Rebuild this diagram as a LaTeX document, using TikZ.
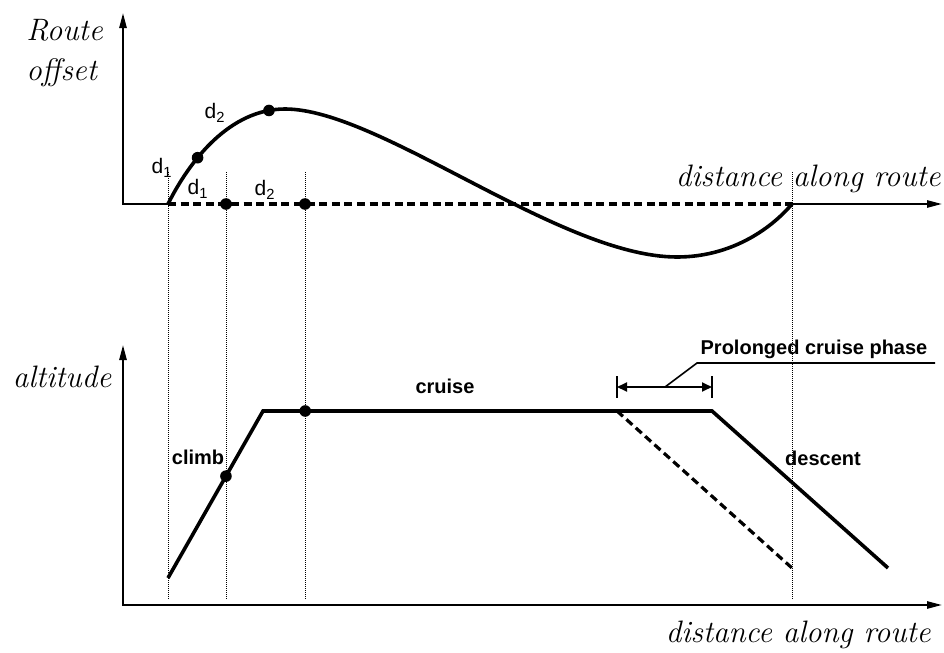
\documentclass[tikz,border=0pt]{standalone}
\usepackage{fontspec}
\newfontfamily\lblfont{Liberation Sans}
\usetikzlibrary{arrows.meta}

\begin{document}
\begin{tikzpicture}[
    x=0.5pt, y=-0.5pt,
    axis/.style={line width=1pt, line join=miter, -{Triangle[length=7.5pt, width=3.6pt]}},
    axes/.style={line width=1pt, line join=miter, {Triangle[length=7.5pt, width=3.6pt]}-{Triangle[length=7.5pt, width=3.6pt]}},
    route/.style={line width=1.8pt},
    plan/.style={line width=1.6pt, dash pattern=on 4pt off 2.3pt},
    guide/.style={line width=0.4pt, dash pattern=on 0.5pt off 0.5pt},
    dot/.style={circle, fill, inner sep=0pt, minimum size=5.8pt},
    axlabel/.style={font=\fontsize{15.5}{20}\selectfont\itshape, inner sep=0pt},
    dlabel/.style={font=\lblfont\fontsize{10.5}{12}\selectfont, inner sep=0pt},
    phase/.style={font=\lblfont\bfseries\fontsize{10}{12}\selectfont, inner sep=0pt},
    dim/.style={line width=0.9pt, {Triangle[length=5pt, width=4.5pt]}-{Triangle[length=5pt, width=4.5pt]}}
  ]
    \useasboundingbox (0,0) rectangle (944,653);

    % top graph: route offset
    \coordinate (o1) at (123,204);
    \coordinate (y1) at (123,13);
    \coordinate (s1) at (168,204);
    \coordinate (e1) at (792,204);
    \coordinate (x1) at (942,204);
    \draw[line width=1pt, line join=miter, {Triangle[length=7.5pt, width=3.6pt]}-] (y1) -- (o1) -- (s1);
    \draw[axis] (e1) -- (x1);
    \draw[plan] (s1) -- (e1);
    \node[dot] (n1) at (226,204) {};
    \node[dot] (n2) at (305,204) {};

    \draw[route] (s1) .. controls (190,160) and (230,109) .. (285,109)
        node[dot, pos=0.35] (r1) {} node[dot, pos=0.9] (r2) {}
      .. controls (380,109) and (560,257) .. (677,257)
      .. controls (730,257) and (770,230) .. (e1);

    \node[axlabel, align=left, anchor=west] (roff) at (26,53) {Route\\offset};
    \node[axlabel, anchor=base east] (dist1) at (941,186) {distance along route};
    \node[dlabel] (d1a) at (162,168) {d\textsubscript{1}};
    \node[dlabel] (d1b) at (198,189) {d\textsubscript{1}};
    \node[dlabel] (d2a) at (215,113) {d\textsubscript{2}};
    \node[dlabel] (d2b) at (265,190) {d\textsubscript{2}};

    % guides between the two graphs
    \foreach \gx in {168,226,305,792}
      \draw[guide] (\gx,172) -- (\gx,600);

    % bottom graph: altitude
    \coordinate (o2) at (123,605);
    \coordinate (y2) at (123,345);
    \coordinate (x2) at (942,605);
    \draw[axes] (y2) -- (o2) -- (x2);

    \coordinate (c0) at (168,578);
    \coordinate (c1) at (263,411);
    \coordinate (c2) at (712,411);
    \coordinate (c3) at (888,568);
    \coordinate (c4) at (617,411);
    \coordinate (c5) at (792,568);
    \draw[route, line join=miter] (c0) -- node[dot, pos=0.61] (b1) {} (c1)
      -- node[dot, pos=0.094] (b2) {} (c2) -- (c3);
    \draw[plan] (c4) -- (c5);

    \node[axlabel] (alt) at (62,377) {altitude};
    \node[axlabel, anchor=base east] (dist2) at (931,642) {distance along route};
    \node[phase] (cru) at (445,386) {cruise};
    \node[phase] (clb) at (198,457) {climb};
    \node[phase] (dsc) at (823,458) {descent};

    % prolonged cruise dimension
    \coordinate (pl) at (617,387);
    \coordinate (pr) at (712,387);
    \coordinate (lk) at (665,387);
    \coordinate (lb) at (697,363);
    \coordinate (le) at (935,363);
    \draw[dim] (pl) -- (pr);
    \draw[line width=0.9pt] ([yshift=5.5pt]pl) -- ([yshift=-5.5pt]pl);
    \draw[line width=0.9pt] ([yshift=5.5pt]pr) -- ([yshift=-5.5pt]pr);
    \draw[line width=0.8pt] (lk) -- (lb) -- (le);
    \node[phase] (pcp) at (814,349) {Prolonged cruise phase};
  \end{tikzpicture}
\end{document}
